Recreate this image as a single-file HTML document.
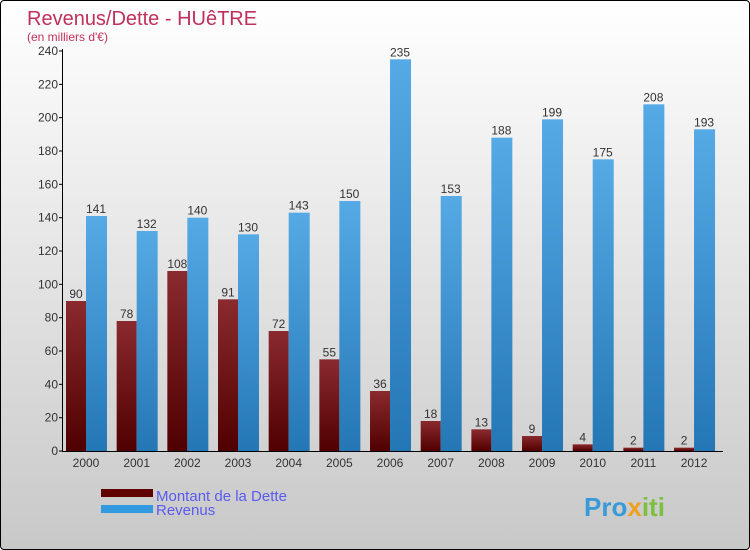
<!DOCTYPE html>
<html><head><meta charset="utf-8"><style>
body{margin:0}
#c{width:750px;height:550px;position:relative;box-sizing:border-box;border:1px solid #000;border-radius:4px;background:linear-gradient(#fff,#c8c8c8);font-family:"Liberation Sans",sans-serif;overflow:hidden}
svg text{font-family:"Liberation Sans",sans-serif}
</style></head><body>
<div id="c">
<svg id="s" width="750" height="550">
<defs>
<linearGradient id="gd" x1="0" y1="0" x2="0" y2="1"><stop offset="0" stop-color="#8a2a2e"/><stop offset="1" stop-color="#500000"/></linearGradient>
<linearGradient id="gr" x1="0" y1="0" x2="0" y2="1"><stop offset="0" stop-color="#55aae6"/><stop offset="1" stop-color="#2477b5"/></linearGradient>
</defs>
<text x="26" y="24" font-size="20" fill="#c0305a">Revenus/Dette - HUêTRE</text>
<text x="26" y="40" font-size="12" fill="#c0305a">(en milliers d'€)</text>
<g id="g"></g>
<rect x="100" y="488" width="52" height="8" fill="#600000"/>
<text x="155" y="500" font-size="15" fill="#5a5af0">Montant de la Dette</text>
<rect x="100" y="504" width="52" height="8" fill="#3399e0"/>
<text x="155" y="514" font-size="15" fill="#5a5af0">Revenus</text>
<text x="583" y="515" font-size="26" font-weight="bold" fill="#3a9ad8">Pro<tspan fill="#f0a020">x</tspan><tspan fill="#7cc040">iti</tspan></text>
</svg></div>
<script>
const years=["2000","2001","2002","2003","2004","2005","2006","2007","2008","2009","2010","2011","2012"];
const dette=[90,78,108,91,72,55,36,18,13,9,4,2,2];
const revenus=[141,132,140,130,143,150,235,153,188,199,175,208,193];
const ticks=[0,20,40,60,80,100,120,140,160,180,200,220,240];
const NS="http://www.w3.org/2000/svg";
const g=document.getElementById('g');
const y0=450,y1=50,vmax=240;
const yS=v=>y0-(v/vmax)*(y0-y1);
const xC=i=>85+i*50.67;
function mk(t,a){const e=document.createElementNS(NS,t);for(const k in a)e.setAttribute(k,a[k]);g.appendChild(e);return e;}
ticks.forEach(t=>{
 const l=mk('line',{x1:58,x2:62,y1:yS(t),y2:yS(t),stroke:'#000'});
 
 
 const tx=mk('text',{x:57,y:yS(t)+4,'font-size':12,'text-anchor':'end',fill:'#333'});tx.textContent=t;
 
 
});
years.forEach((yr,i)=>{
 const c=xC(i);
 const d=mk('rect',{x:c-20,y:yS(dette[i]),width:20,height:y0-yS(dette[i]),fill:'url(#gd)'});
 
 
 const r=mk('rect',{x:c,y:yS(revenus[i]),width:21,height:y0-yS(revenus[i]),fill:'url(#gr)'});
 
 
 const t1=mk('text',{x:c-10,y:yS(dette[i])-3,'font-size':12,'text-anchor':'middle',fill:'#333'});t1.textContent=dette[i];
 
 
 const t2=mk('text',{x:c+10,y:yS(revenus[i])-3,'font-size':12,'text-anchor':'middle',fill:'#333'});t2.textContent=revenus[i];
 
 
 const xl=mk('text',{x:c,y:466,'font-size':12,'text-anchor':'middle',fill:'#333'});xl.textContent=yr;
 
 
});
const ya=mk('line',{x1:61.5,x2:61.5,y1:48,y2:451,stroke:'#000'});


const xa=mk('line',{x1:61,x2:722,y1:450.5,y2:450.5,stroke:'#000'});


</script>
</body></html>
